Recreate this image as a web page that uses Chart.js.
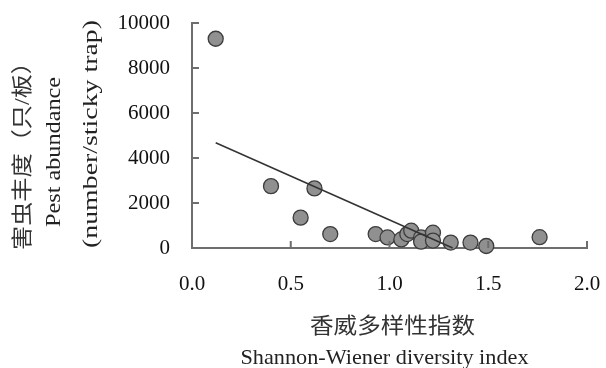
<!DOCTYPE html>
<html>
<head>
<meta charset="utf-8">
<title>Pest abundance vs Shannon-Wiener diversity</title>
<script src="https://cdn.jsdelivr.net/npm/chart.js"></script>
<style>
  html, body { margin: 0; padding: 0; background: #fff; }
  #wrap { width: 606px; height: 368px; }
</style>
</head>
<body>
<div id="wrap"><canvas id="pestChart" width="606" height="368"></canvas></div>
<script>
// 香威多样性指数 (x) vs 害虫丰度 (y)
var diversity = [0.12, 0.40, 0.62, 0.55, 0.70, 0.93, 0.99, 1.06, 1.09, 1.11, 1.16, 1.16, 1.22, 1.22, 1.31, 1.41, 1.49, 1.76];
var abundance = [9300, 2750, 2650, 1350, 620, 620, 470, 380, 620, 770, 470, 280, 680, 330, 240, 240, 90, 480];
// fitted line, end points
var fitX = [0.12, 1.32];
var fitY = [4680, 0];
var xTicks = [0, 0.5, 1.0, 1.5, 2.0];
var yTicks = [0, 2000, 4000, 6000, 8000, 10000];
var xTitle = ['香威多样性指数', 'Shannon-Wiener diversity index'];
var yTitle = ['害虫丰度（只/板）', 'Pest abundance', '(number/sticky trap)'];

var serif = '"Liberation Serif", "Times New Roman", "Noto Sans CJK SC", serif';

// draw one title line, stretched to a given length
function titleLine(ctx, str, cx, cy, size, len, rotated, color) {
  ctx.save();
  ctx.translate(cx, cy);
  if (rotated) ctx.rotate(-Math.PI / 2);
  ctx.font = size + 'px ' + serif;
  var w = ctx.measureText(str).width;
  ctx.scale(len / w, 1);
  ctx.fillStyle = color;
  ctx.textAlign = 'center';
  ctx.textBaseline = 'middle';
  ctx.fillText(str, 0, 0);
  ctx.restore();
}

var framePlugin = {
  id: 'frame',
  afterDraw: function (chart) {
    var ctx = chart.ctx, xs = chart.scales.x, ys = chart.scales.y, area = chart.chartArea;
    ctx.save();
    // inward tick marks
    ctx.strokeStyle = '#6e6e6e';
    ctx.lineWidth = 2;
    ctx.beginPath();
    yTicks.forEach(function (v) {
      if (v === 0) return;
      var p = ys.getPixelForValue(v);
      ctx.moveTo(area.left, p);
      ctx.lineTo(area.left + 7, p);
    });
    xTicks.forEach(function (v) {
      if (v === 0) return;
      var p = xs.getPixelForValue(v);
      ctx.moveTo(p, area.bottom);
      ctx.lineTo(p, area.bottom - 7);
    });
    ctx.stroke();
    ctx.restore();

    // axis titles
    var mid = (area.left + area.right) / 2;
    titleLine(ctx, xTitle[0], mid + 3, 327, 22, 165, false, '#333');
    titleLine(ctx, xTitle[1], mid - 5, 358, 22, 288, false, '#222');
    titleLine(ctx, yTitle[0], 23, 150, 21, 200, true, '#333');
    titleLine(ctx, yTitle[1], 54, 152, 21, 150, true, '#222');
    titleLine(ctx, yTitle[2], 91, 134, 21, 228, true, '#222');
  }
};

var points = diversity.map(function (x, i) { return { x: x, y: abundance[i] }; });
var fit = fitX.map(function (x, i) { return { x: x, y: fitY[i] }; });

new Chart(document.getElementById('pestChart').getContext('2d'), {
  type: 'scatter',
  data: {
    datasets: [{
      type: 'line',
      data: fit,
      showLine: true,
      fill: false,
      borderColor: '#333',
      borderWidth: 1.5,
      pointRadius: 0,
      clip: false
    }, {
      data: points,
      pointRadius: 7.5,
      pointHoverRadius: 7.5,
      backgroundColor: '#909090',
      borderColor: '#3c3c3c',
      borderWidth: 1.3,
      clip: false
    }]
  },
  options: {
    responsive: false,
    animation: false,
    devicePixelRatio: 1,
    layout: { padding: { top: 23, right: 19, left: 0, bottom: 0 } },
    plugins: { legend: { display: false }, tooltip: { enabled: false } },
    scales: {
      x: {
        type: 'linear',
        min: 0,
        max: 2,
        afterBuildTicks: function (scale) { scale.ticks = xTicks.map(function (v) { return { value: v }; }); },
        afterFit: function (scale) {
          scale.height = 120;
          scale.paddingLeft = 0;
          scale.paddingRight = 0;
        },
        grid: { display: true, drawOnChartArea: false, drawTicks: false },
        border: { display: true, color: '#6e6e6e', width: 2 },
        ticks: {
          autoSkip: false,
          maxRotation: 0,
          padding: 24,
          color: '#111',
          font: { family: serif, size: 21 },
          callback: function (v) { return Number(v).toFixed(1); }
        }
      },
      y: {
        type: 'linear',
        min: 0,
        max: 10000,
        afterBuildTicks: function (scale) { scale.ticks = yTicks.map(function (v) { return { value: v }; }); },
        afterFit: function (scale) {
          scale.width = 192;
          scale.paddingTop = 0;
          scale.paddingBottom = 0;
        },
        grid: { display: true, drawOnChartArea: false, drawTicks: false },
        border: { display: true, color: '#6e6e6e', width: 2 },
        ticks: {
          padding: 22,
          color: '#111',
          font: { family: serif, size: 21 },
          callback: function (v) { return String(v); }
        }
      }
    }
  },
  plugins: [framePlugin]
});
</script>
</body>
</html>
